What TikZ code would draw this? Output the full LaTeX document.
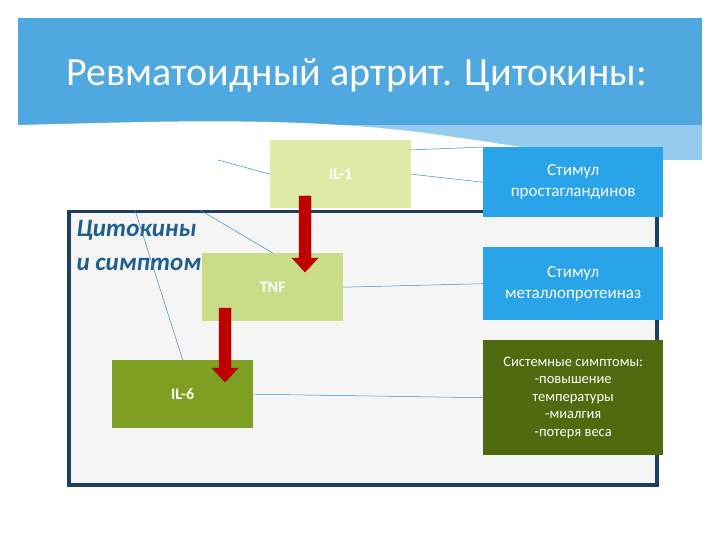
\documentclass[tikz,border=0pt]{standalone}
\usepackage{fontspec}
\setmainfont{Carlito}
\usetikzlibrary{arrows.meta}
\definecolor{sky}{HTML}{4FA8E0}
\definecolor{frameC}{HTML}{1F3F60}
\definecolor{il1}{HTML}{DFEAA6}
\definecolor{tnf}{HTML}{CADC88}
\definecolor{il6}{HTML}{7F9F22}
\definecolor{rbox}{HTML}{2AA4E8}
\definecolor{dbox}{HTML}{506A10}
\definecolor{arr}{HTML}{C00000}
\definecolor{ttl}{HTML}{1F5F8F}
\definecolor{lnk}{HTML}{3C8CC8}
\tikzset{
 cbox/.style={draw=none,minimum width=141pt,minimum height=68pt,text=white,font=\fontsize{16}{18}\selectfont\bfseries,inner sep=0pt},
 rb/.style={fill=rbox,minimum width=180pt,text=white,align=center,font=\fontsize{17}{21}\selectfont,inner sep=0pt},
 lk/.style={draw=lnk,line width=0.5pt},
 redarrow/.style={draw=arr!80!black,fill=arr}
}
\begin{document}
\begin{tikzpicture}[x=1pt,y=-1pt]
\useasboundingbox (0,0) rectangle (720,540);
\fill[white] (0,0) rectangle (720,540);
% sky banner
\fill[sky!60!white] (18,18) rectangle (702,160);
\fill[sky] (18,18) rectangle (702,125);
\fill[white] (18,160) -- (18,125) .. controls (150,122) and (300,115) .. (440,135) .. controls (580,155) and (660,170) .. (702,165) -- (702,190) -- (18,190) -- cycle;
\node[text=white,font=\fontsize{40}{44}\selectfont,anchor=west] (title) at (63,75) {Ревматоидный артрит. Цитокины:};
% frame
\node[draw=frameC,line width=3.5pt,fill=black!4,minimum width=588pt,minimum height=273pt,anchor=north west,inner sep=0pt] (frame) at (67,210) {};
\node[anchor=west,text=ttl,font=\fontsize{25}{28}\selectfont\itshape\bfseries] (cap1) at (73,230) {Цитокины};
\node[anchor=west,text=ttl,font=\fontsize{25}{28}\selectfont\itshape\bfseries] (cap2) at (73,264) {и симптомы};
% links
\coordinate (p1) at (218,160);
\coordinate (p2) at (135,210);
\coordinate (p3) at (200,210);
\coordinate (p4) at (410,150);
\node[cbox,fill=il1,anchor=north west] (il1) at (270,140) {IL-1};
\node[cbox,fill=tnf,anchor=north west] (tnf) at (202,253) {TNF};
\node[cbox,fill=il6,anchor=north west] (il6) at (112,360) {IL-6};
\node[rb,anchor=north west,minimum height=70pt] (r1) at (483,147) {Стимул\\простагландинов};
\node[rb,anchor=north west,minimum height=73pt] (r2) at (483,247) {Стимул\\металлопротеиназ};
\node[rb,fill=dbox,anchor=north west,minimum height=115pt,font=\fontsize{14.5}{17.5}\selectfont] (r3) at (483,340) {Системные симптомы:\\-повышение\\температуры\\-миалгия\\-потеря веса};
\draw[lk] (p1) -- (il1.west);
\draw[lk] (il1.east) -- (r1.west);
\draw[lk] (p4) -- (r1.north west);
\draw[lk] (tnf.east) -- (r2.west);
\draw[lk] (il6.east) -- (r3.west);
\draw[lk] (p2) -- (il6.north);
\draw[lk] (p3) -- (tnf.north);
% red arrows
\draw[redarrow] (299,196) -- (311,196) -- (311,258) -- (318,258) -- (305,272) -- (292,258) -- (299,258) -- cycle;
\draw[redarrow] (219,308) -- (231,308) -- (231,368) -- (238,368) -- (225,382) -- (212,368) -- (219,368) -- cycle;
\end{tikzpicture}
\end{document}
